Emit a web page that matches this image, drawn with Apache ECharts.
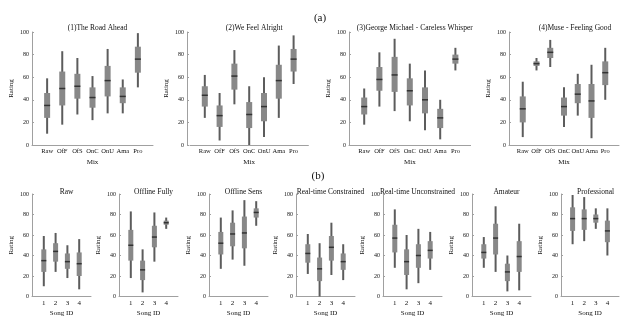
<!DOCTYPE html>
<html>
<head>
<meta charset="utf-8">
<script src="https://cdn.jsdelivr.net/npm/echarts@6/dist/echarts.min.js"></script>
<style>
  html, body { margin: 0; padding: 0; background: #fff; }
  #main { width: 622px; height: 320px; }
</style>
</head>
<body>
<div id="main"></div>
<script type="text/javascript">
// mixes and song titles
var mixes = ['Raw', 'OfF', 'OfS', 'OnC', 'OnU', 'Ama', 'Pro'];
var mixNames = ['Raw', 'Offline Fully', 'Offline Sens', 'Real-time Constrained', 'Real-time Unconstrained', 'Amateur', 'Professional'];
var songTitles = ['(1)The Road Ahead', '(2)We Feel Alright', '(3)George Michael - Careless Whisper', '(4)Muse - Feeling Good'];
var songIds = ['1', '2', '3', '4'];
var yTicks = [0, 20, 40, 60, 80, 100];

// [min, q1, median, q3, max] per mix, one list per song
var song1 = [[10, 24, 35, 46, 59], [18, 35, 50, 65, 83], [27, 41, 52, 63, 77], [22, 33, 42, 51, 61], [28, 43, 57, 70, 85], [28, 37, 43, 51, 58], [51, 64, 76, 87, 99]];
var song2 = [[24, 34, 44, 52, 62], [4, 16, 26, 35, 46], [36, 49, 61, 72, 84], [0, 15, 27, 38, 52], [7, 21, 34, 46, 60], [24, 41, 57, 71, 88], [54, 65, 76, 85, 97]];
var song3 = [[18, 27, 34, 42, 50], [34, 48, 58, 69, 82], [30, 47, 62, 78, 94], [21, 35, 48, 59, 72], [13, 28, 40, 51, 66], [5, 15, 24, 32, 40], [66, 72, 76, 80, 86]];
var song4 = [[7, 20, 32, 43, 56], [66, 70, 72, 74, 77], [69, 77, 82, 86, 93], [16, 26, 34, 42, 51], [26, 37, 45, 54, 63], [6, 24, 39, 54, 71], [40, 53, 64, 74, 86]];
var songs = [song1, song2, song3, song4];

var FONT = 'Liberation Serif';
var TXT = '#111';
var myChart = echarts.init(document.getElementById('main'));

function boxItem(boxW) {
    return function (params, api) {
        var x = api.value(0);
        var pMin = api.coord([x, api.value(1)]);
        var pQ1 = api.coord([x, api.value(2)]);
        var pMed = api.coord([x, api.value(3)]);
        var pQ3 = api.coord([x, api.value(4)]);
        var pMax = api.coord([x, api.value(5)]);
        return {
            type: 'group',
            children: [
                { type: 'line', shape: { x1: pMin[0], y1: pMin[1], x2: pMax[0], y2: pMax[1] }, style: { stroke: '#5c5c5c', lineWidth: 2 } },
                { type: 'rect', shape: { x: pQ3[0] - boxW / 2, y: pQ3[1], width: boxW, height: pQ1[1] - pQ3[1] }, style: { fill: '#888888' } },
                { type: 'line', shape: { x1: pMed[0] - boxW / 2, y1: pMed[1], x2: pMed[0] + boxW / 2, y2: pMed[1] }, style: { stroke: '#333', lineWidth: 1.5 } }
            ]
        };
    };
}

var grids = [], xAxes = [], yAxes = [], series = [], titles = [];

titles.push({ text: '(a)', left: 315, top: 8, textAlign: 'center', textStyle: { fontFamily: FONT, fontSize: 11, fontWeight: 'normal', color: TXT } });
titles.push({ text: '(b)', left: 313, top: 166, textAlign: 'center', textStyle: { fontFamily: FONT, fontSize: 11, fontWeight: 'normal', color: TXT } });

function addPanel(g, cats, rows, title, xName, boxW, fontSize) {
    var idx = grids.length;
    grids.push({ left: g.left, top: g.top, width: g.width, height: g.height });
    xAxes.push({
        type: 'category', gridIndex: idx, data: [''].concat(cats, ['']), boundaryGap: false,
        name: xName, nameLocation: 'middle', nameGap: g.nameGap,
        nameTextStyle: { fontFamily: FONT, fontSize: 7, color: TXT },
        axisLine: { lineStyle: { color: '#a0a0a0', width: 1 } },
        axisTick: { show: false },
        axisLabel: { interval: 0, fontFamily: FONT, fontSize: fontSize, color: TXT, margin: 3 }
    });
    yAxes.push({
        type: 'value', gridIndex: idx, min: 0, max: 100, interval: 20, offset: g.offset || 0,
        name: 'Rating', nameLocation: 'middle', nameGap: 17,
        nameTextStyle: { fontFamily: FONT, fontSize: 7, color: TXT },
        splitLine: { show: false },
        axisLine: { show: true, lineStyle: { color: '#a0a0a0', width: 1 } },
        axisTick: { show: true, inside: true, length: 2, lineStyle: { color: '#a0a0a0' } },
        axisLabel: { fontFamily: FONT, fontSize: 6, color: TXT, margin: 3,
            customValues: yTicks }
    });
    series.push({
        type: 'custom', xAxisIndex: idx, yAxisIndex: idx,
        renderItem: boxItem(boxW),
        data: rows.map(function (r, i) { return [cats[i]].concat(r); })
    });
    titles.push({ text: title, left: g.left + g.width / 2, top: g.titleTop, textAlign: 'center',
        textStyle: { fontFamily: FONT, fontSize: 7.5, fontWeight: 'normal', color: TXT } });
}

// row (a): one panel per song, boxes per mix
var topGrids = [
    { left: 32, width: 121, offset: 0 },
    { left: 190, width: 118.4, offset: 3 },
    { left: 349, width: 121.6, offset: 0 },
    { left: 509, width: 122, offset: 0 }
];
topGrids.forEach(function (g, s) {
    g.top = 32; g.height = 113; g.nameGap = 14; g.titleTop = 19;
    addPanel(g, mixes, songs[s], songTitles[s], 'Mix', 6, 6.5);
});

// row (b): one panel per mix, boxes per song
var bottomLefts = [32, 119, 209, 296, 383, 472, 561];
bottomLefts.forEach(function (l, m) {
    var g = { left: l, width: 59, top: 194, height: 102.5, nameGap: 13, titleTop: 183 };
    var rows = songs.map(function (sg) { return sg[m]; });
    addPanel(g, songIds, rows, mixNames[m], 'Song ID', 5, 7);
});

myChart.setOption({
    backgroundColor: '#fff',
    animation: false,
    title: titles,
    grid: grids,
    xAxis: xAxes,
    yAxis: yAxes,
    series: series
});
</script>
</body>
</html>
